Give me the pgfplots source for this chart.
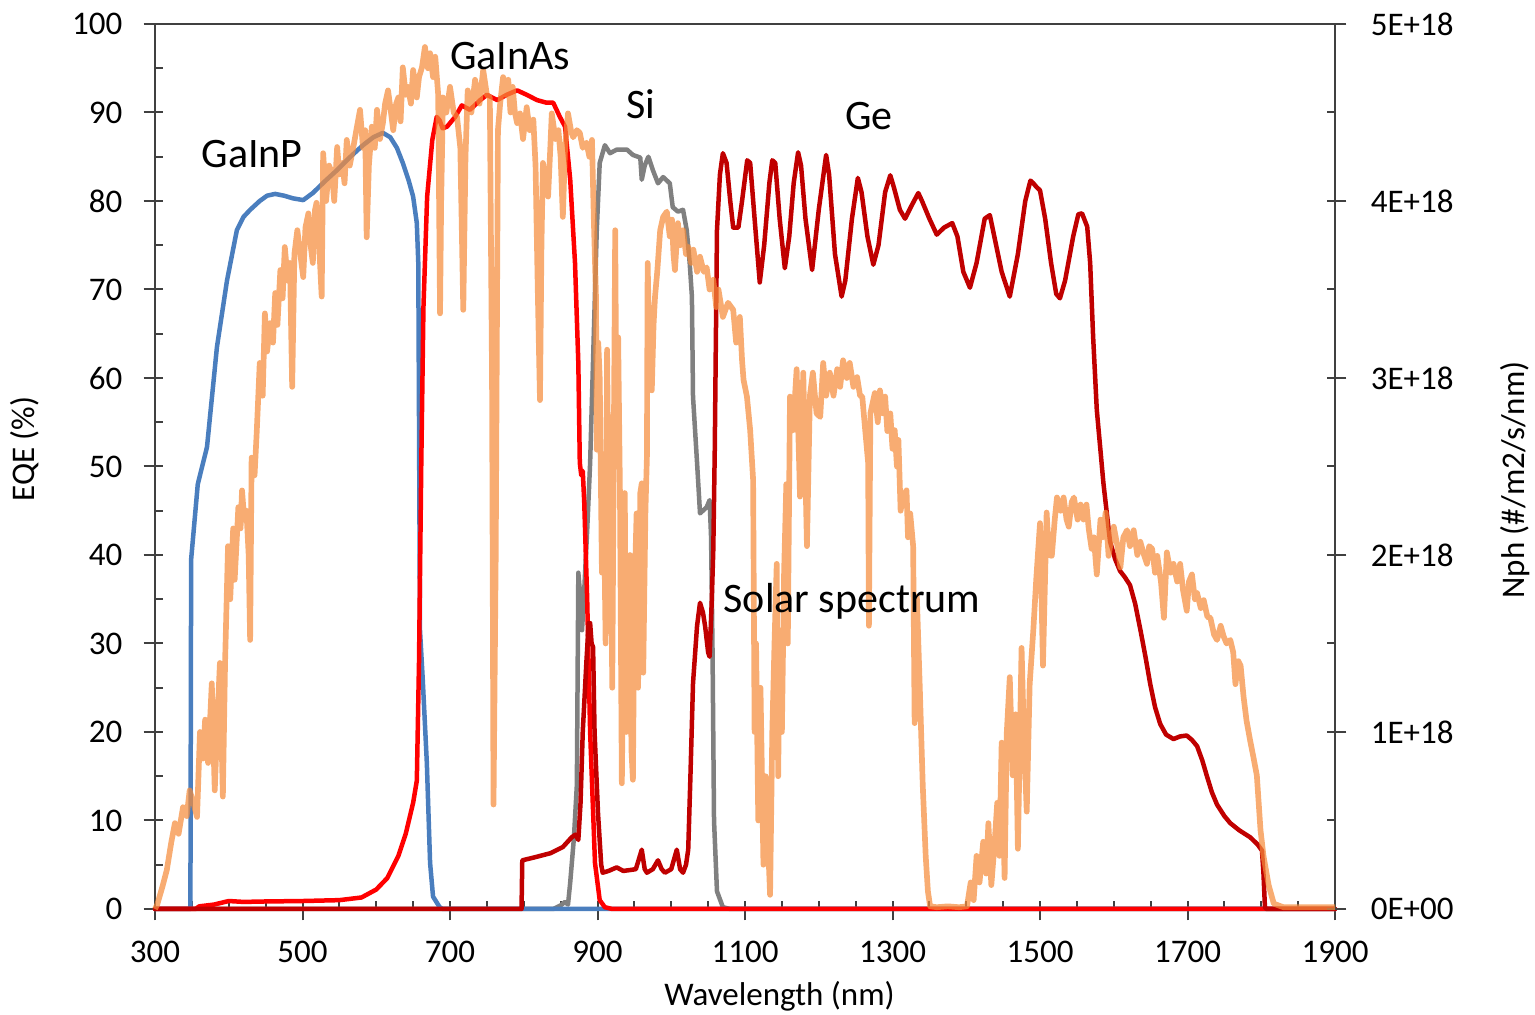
\documentclass[border=0pt]{standalone}
\usepackage{fontspec}
\setmainfont{Carlito}
\usepackage{pgfplots}
\pgfplotsset{compat=1.18}
\definecolor{cBlue}{RGB}{74,126,190}
\definecolor{cRed}{RGB}{255,0,0}
\definecolor{cDark}{RGB}{192,0,0}
\definecolor{cGray}{RGB}{128,128,128}
\definecolor{cOrange}{RGB}{245,140,60}
\definecolor{cAxis}{RGB}{64,64,64}
\begin{document}
\begin{tikzpicture}
\useasboundingbox (0,0) rectangle (460.5pt,304.5pt);
\begin{axis}[
  at={(46.5pt,31.8pt)}, anchor=south west, scale only axis,
  width=354pt, height=265.5pt,
  xmin=300, xmax=1900, ymin=0, ymax=100, clip=false,
  axis line style={cAxis, line width=0.6pt},
  xtick={300,500,700,900,1100,1300,1500,1700,1900},
  xticklabels={300,500,700,900,1100,1300,1500,1700,1900},
  minor x tick num=3,
  ytick={0,10,20,30,40,50,60,70,80,90,100},
  yticklabels={0,10,20,30,40,50,60,70,80,90,100},
  minor y tick num=1,
  xtick pos=bottom, ytick pos=left,
  tick align=inside, major tick length=2.4pt, minor tick length=2.4pt,
  tick style={cAxis, line width=0.6pt},
  extra x ticks={300,500,700,900,1100,1300,1500,1700,1900},
  extra x tick labels={},
  extra x tick style={tick align=outside, major tick length=3.4pt},
  extra y ticks={0,10,20,30,40,50,60,70,80,90,100},
  extra y tick labels={},
  extra y tick style={tick align=outside, major tick length=3.4pt},
  ticklabel style={font=\fontsize{9.9}{12}\selectfont, text=black},
  xticklabel style={yshift=-6pt},
  yticklabel style={xshift=-6.3pt},
  every axis plot/.append style={line width=1.35pt, line join=round, line cap=round},
]
% Si
\addplot[cGray] coordinates {
(300,0) (840,0) (850,0.4) (856,0.8) (860,0.5) (863,3) (868,8) (872,14) (874,38) (877,35)
(879,31.5) (882,36) (886,42.8) (890,50.4) (895,65) (899,76.7) (903,84.3) (910,86.3)
(917,85.4) (926,85.8) (940,85.8) (948,85.2) (958,84.9) (960,82.4) (964,84) (969,85.0)
(975,83.5) (982,82.0) (989,82.7) (998,82.0) (1002,79.3) (1009,78.8) (1016,79.0)
(1021,76.7) (1025,73) (1028,69.2) (1029.5,57.9) (1035,50.4) (1039,44.7) (1048,45.4)
(1052,46.2) (1054,42) (1056,29) (1058,10) (1062,2) (1070,0.2) (1080,0) (1900,0)};
% GaInP
\addplot[cBlue] coordinates {
(300,0) (348,0) (349,39.5) (358,48) (370.5,52.2) (384,63.5) (397.6,71) (411,76.7)
(420,78.2) (429,79) (442,80) (452,80.6) (463,80.8) (475,80.6) (487,80.3) (501,80.1)
(514,80.9) (530,82.2) (547,83.5) (565,85) (582,86.3) (596,87.2) (609,87.7) (619,87.2)
(628,86) (636,84.3) (644,82.3) (650,80.5) (655,77.5) (657,73) (659.3,31.5) (663,26)
(668.6,16.5) (673,5.2) (677,1.4) (686,0.2) (690,0) (1900,0)};
% GaInAs
\addplot[cRed] coordinates {
(300,0) (355,0) (360,0.3) (370,0.4) (380,0.5) (390,0.7) (400,0.9) (420,0.8) (450,0.85)
(500,0.9) (550,1.0) (580,1.3) (600,2.2) (615,3.5) (630,6) (640,8.5) (650,12) (655,14.5)
(658,28) (661,50) (664,68) (669,80.5) (676,86.9) (682,89.5) (686,89.1) (690,88.2)
(696,88.4) (707,89.5) (716,90.8) (727,90.3) (741,91.4) (750,92.0) (764,91.4) (777,92.0)
(791,92.5) (804,92.0) (818,91.4) (831,91.1) (840,91.1) (849,89.5) (856,88.4) (863,82.4)
(869.5,73) (874,61.7) (876,50.4) (878,49) (880,49.5) (882,46) (886,35) (890,20)
(896.6,5.2) (903,1) (910,0.2) (920,0) (1900,0)};
% Ge
\addplot[cDark] coordinates {
(300,0) (797,0) (798,5.5) (813,5.8) (836,6.3) (853,7.0) (865,8.1) (870,8.4) (874,7.8)
(877,12) (880,20) (885,28) (888,32.3) (890,32.3) (892,30) (894,29.6) (896,20) (900.7,10.8)
(905,5) (907,4.1) (915,4.3) (926,4.7) (935,4.3) (944,4.4) (952,4.5) (960,6.7) (964,4.5)
(967,4.1) (975,4.5) (982,5.5) (987,4.5) (991.5,4.1) (1000,4.5) (1007.5,6.7) (1012,4.5)
(1016,4.1) (1020,5) (1023,6.7) (1026,15) (1029.5,25.5) (1035,32) (1039,34.6) (1043,33.5)
(1046,31.9) (1050,29) (1052,28.5) (1055,35) (1057,40.6) (1059,51.9) (1062,76.7) (1066,83)
(1070,85.4) (1075,84.3) (1080,80) (1084,77) (1091,77) (1096,80) (1103,84.6) (1107,84.3)
(1113,78) (1120,70.8) (1126,75) (1133,82) (1137,84.6) (1141,84.3) (1147,78) (1154,72.4)
(1160,76) (1166,82) (1172,85.5) (1176,84) (1182,78) (1191,72.2) (1200,79) (1210,85.2)
(1214,83) (1222,74) (1231,69.2) (1236,71) (1245,78) (1253,82.6) (1258,81) (1266,76)
(1274,72.8) (1281,75) (1290,81) (1297,82.9) (1302,81.5) (1310,79) (1317,78) (1326,79.5)
(1335,80.9) (1340,80) (1350,78) (1360,76.2) (1370,77) (1381,77.5) (1388,76) (1396,72)
(1405,70.2) (1414,73) (1425,78) (1432,78.4) (1438,76) (1448,72) (1459,69.2) (1470,74)
(1480,80) (1487,82.3) (1491,82.0) (1495,81.6) (1500,81.2) (1507,78) (1515,73) (1522,69.5)
(1527,69.0) (1534,71) (1545,76) (1552,78.5) (1557,78.6) (1564,77.1) (1568,73) (1572,64.7)
(1577,56.4) (1586,48.1) (1595,41.5) (1602,39.5) (1608.5,38.2) (1615,37.5) (1622,36.6)
(1629,34.5) (1636,31.6) (1643,28.5) (1649.5,25.4) (1656,22.8) (1663,20.9) (1671,19.7)
(1681,19.2) (1690,19.5) (1699,19.6) (1706,19.1) (1713,18.4) (1720,16.8) (1726,15.1)
(1733,13.2) (1740,11.8) (1750,10.5) (1758,9.7) (1770,8.9) (1785,8.1) (1795,7.3) (1801,6.6)
(1803,4) (1805,0.2) (1807,0) (1900,0)};
\end{axis}
\begin{axis}[
  at={(46.5pt,31.8pt)}, anchor=south west, scale only axis,
  width=354pt, height=265.5pt,
  xmin=300, xmax=1900, ymin=0, ymax=5, clip=false,
  axis x line=none, axis y line*=right,
  axis line style={cAxis, line width=0.6pt},
  ytick={0,1,2,3,4,5},
  yticklabels={0E+00,1E+18,2E+18,3E+18,4E+18,5E+18},
  minor y tick num=1,
  tick align=inside, major tick length=2.4pt, minor tick length=2.4pt,
  tick style={cAxis, line width=0.6pt},
  extra y ticks={0,1,2,3,4,5},
  extra y tick labels={},
  extra y tick style={tick align=outside, major tick length=3.4pt},
  ticklabel style={font=\fontsize{9.9}{12}\selectfont, text=black},
  yticklabel style={xshift=7.2pt},
]
\addplot[cOrange, opacity=0.72, line width=1.7pt, line join=round] table {
x y
300 0
303 0.025
310 0.125
316 0.22
322 0.375
327 0.485
332 0.425
338 0.575
343 0.525
347 0.67
352 0.60
357 0.52
361 1.00
365 0.85
368 1.07
372 0.825
377 1.275
381 0.67
385 1.10
388 1.39
392 0.635
395 1.39
399 2.05
402 1.75
404 1.95
406 2.15
408 1.86
411 2.10
413 2.27
416 2.15
418 2.365
421 2.20
424 2.25
427 2.00
429 1.52
431 2.55
435 2.45
438 2.70
442 3.085
446 2.90
449 3.365
452 3.15
456 3.31
460 3.20
463 3.48
466 3.30
470 3.61
473 3.45
476 3.74
480 3.55
483 3.65
486 2.95
489 3.70
493 3.835
497 3.70
501 3.57
504 3.85
508 3.93
511 3.75
514 3.65
517 3.95
519 3.99
522 3.80
526 3.46
528 4.27
532 4.00
536 4.20
540 4.16
543 4.00
547 4.305
550 4.15
554 4.215
557 4.10
560 4.345
564 4.20
569 4.305
573 4.40
578 4.515
582 4.30
585 4.40
587 3.795
590 4.20
594 4.42
598 4.30
601 4.515
605 4.35
609 4.44
612 4.55
616 4.625
620 4.50
623 4.40
627 4.55
630 4.585
633 4.45
636 4.755
640 4.60
643 4.645
647 4.55
650 4.74
653 4.65
655 4.585
658 4.70
662 4.755
666 4.87
670 4.75
673 4.835
677 4.70
680 4.815
684 4.60
686.5 3.365
688 4.00
690.5 4.585
695 4.50
700 4.645
705 4.50
709.5 4.475
714 4.30
718 3.385
721 4.25
724 4.625
729 4.50
734 4.685
740 4.55
745 4.74
750 4.60
754 4.585
757 3.00
759 0.59
762 2.00
765 4.40
768 4.55
772 4.70
775 4.60
779 4.685
782 4.50
785 4.645
788 4.50
791 4.44
795 4.495
799 4.35
804 4.53
808 4.40
813 4.46
816 4.20
819 3.50
822 2.875
824 3.75
826 4.215
830 4.10
833 4.025
836 4.30
838 4.495
843 4.35
847 4.40
850 4.25
853 3.91
856 4.30
860 4.495
864 4.40
867 4.36
872 4.40
876 4.385
880 4.30
885 4.33
889 4.25
892.5 4.345
895 3.90
898 3.45
899 2.595
901 3.20
903 3.00
906 1.90
908 2.52
911 1.50
913 3.16
915 2.25
917 2.78
920 1.25
924 3.835
926 2.50
928 3.23
930.5 2.33
933 0.71
935 1.50
937 2.35
939 1.00
941 1.365
944 2.00
946 0.90
948 0.73
950 1.75
953 2.235
955 1.25
958 2.35
960 2.405
962 1.335
965 2.25
967 2.555
968 3.65
971 3.00
973.6 2.93
976 3.30
978 3.46
981 3.60
985 3.835
989 3.91
994 3.94
998 3.80
1001 3.895
1003 3.70
1005 3.61
1009 3.875
1012 3.75
1016 3.835
1020 3.70
1023 3.74
1027 3.65
1030 3.725
1035 3.60
1039 3.685
1044 3.60
1048 3.625
1052 3.50
1057 3.555
1061 3.40
1064 3.50
1070 3.345
1077 3.425
1084 3.385
1088 3.20
1093 3.345
1096 3.10
1098 2.99
1102.6 2.895
1107 2.705
1111 2.425
1113 1.00
1115 1.50
1118 0.50
1121 1.25
1125 0.25
1128 0.75
1131 0.40
1134 0.08
1137 1.00
1140 1.50
1143 1.95
1145 0.75
1147 1.575
1150 1.00
1153 1.90
1156 2.40
1158 1.50
1161 2.895
1165 2.705
1170 3.05
1174.6 2.33
1179 3.03
1184 2.05
1188 2.90
1192 3.03
1197 2.80
1202 2.78
1206 3.085
1210 2.90
1215 3.03
1220 2.90
1225 3.05
1229 2.95
1233 3.10
1238 3.00
1242 3.085
1247 2.95
1252 3.005
1256 2.90
1259 2.895
1263 2.705
1267 2.52
1268 1.60
1270 2.80
1276 2.915
1280 2.75
1283 2.93
1287 2.80
1290 2.895
1293 2.70
1297 2.80
1300 2.60
1303 2.705
1306 2.50
1308 2.65
1311 2.25
1314 2.33
1319 2.365
1321 2.10
1324 2.235
1328 2.05
1330 1.05
1333 1.765
1337 1.25
1341 0.70
1345 0.30
1348 0.10
1351 0.015
1360 0.01
1375 0.015
1390 0.01
1401 0.015
1406 0.15
1410 0.05
1414 0.30
1418 0.15
1423 0.38
1427 0.20
1430 0.485
1434 0.135
1438.6 0.38
1442 0.60
1445 0.30
1448 0.94
1452 0.175
1455 1.00
1459 1.31
1463 0.755
1467 1.10
1470 0.34
1475 1.475
1478 1.00
1482 0.55
1486 1.27
1491 1.58
1495 1.87
1500 2.18
1504 1.375
1509 2.24
1512 2.00
1516 1.995
1520 2.20
1523 2.325
1528 2.25
1532 2.325
1536 2.20
1539 2.16
1543 2.30
1546 2.325
1551 2.20
1555 2.285
1559 2.20
1563 2.285
1566 2.15
1570 2.035
1573 2.10
1577 1.89
1582 2.20
1585 2.10
1589 2.24
1593 1.995
1597 2.10
1600 2.16
1605 2.05
1609 1.93
1613 2.10
1618 2.14
1622 2.05
1627 2.14
1632 2.00
1636 2.075
1641 2.00
1645 1.95
1648 2.05
1652 2.035
1656 1.90
1659 1.995
1664 1.85
1668 1.645
1672 2.015
1677 1.90
1681 1.95
1686 1.85
1690 1.95
1694 1.80
1699 1.685
1702 1.85
1706 1.89
1710 1.75
1713 1.785
1718 1.70
1722 1.745
1727 1.65
1731 1.645
1736 1.55
1740 1.52
1745 1.60
1749 1.54
1753 1.50
1758 1.52
1762 1.45
1765 1.27
1769 1.40
1772 1.375
1776 1.20
1780 1.065
1785 0.95
1789.5 0.855
1794 0.755
1799 0.445
1803 0.30
1810 0.135
1817 0.03
1830 0.01
1900 0.01
};
\end{axis}
\begin{scope}[every node/.style={inner sep=0pt, text=black}]
\node[font=\fontsize{12.6}{15}\selectfont, anchor=base] at (75.6pt,254.1pt) {GaInP};
\node[font=\fontsize{12.6}{15}\selectfont, anchor=base] at (153pt,283.5pt) {GaInAs};
\node[font=\fontsize{12.6}{15}\selectfont, anchor=base] at (192.3pt,268.8pt) {Si};
\node[font=\fontsize{12.6}{15}\selectfont, anchor=base] at (260.7pt,265.5pt) {Ge};
\node[font=\fontsize{12.6}{15}\selectfont, anchor=base] at (255.6pt,120.6pt) {Solar spectrum};
\node[font=\fontsize{9.9}{12}\selectfont, anchor=base] at (233.85pt,2.7pt) {Wavelength (nm)};
\node[font=\fontsize{9.9}{12}\selectfont, rotate=90] at (7.5pt,169.8pt) {EQE (\%)};
\node[font=\fontsize{9.9}{12}\selectfont, rotate=90] at (454.5pt,160.5pt) {Nph (\#/m2/s/nm)};
\end{scope}
\end{tikzpicture}
\end{document}
